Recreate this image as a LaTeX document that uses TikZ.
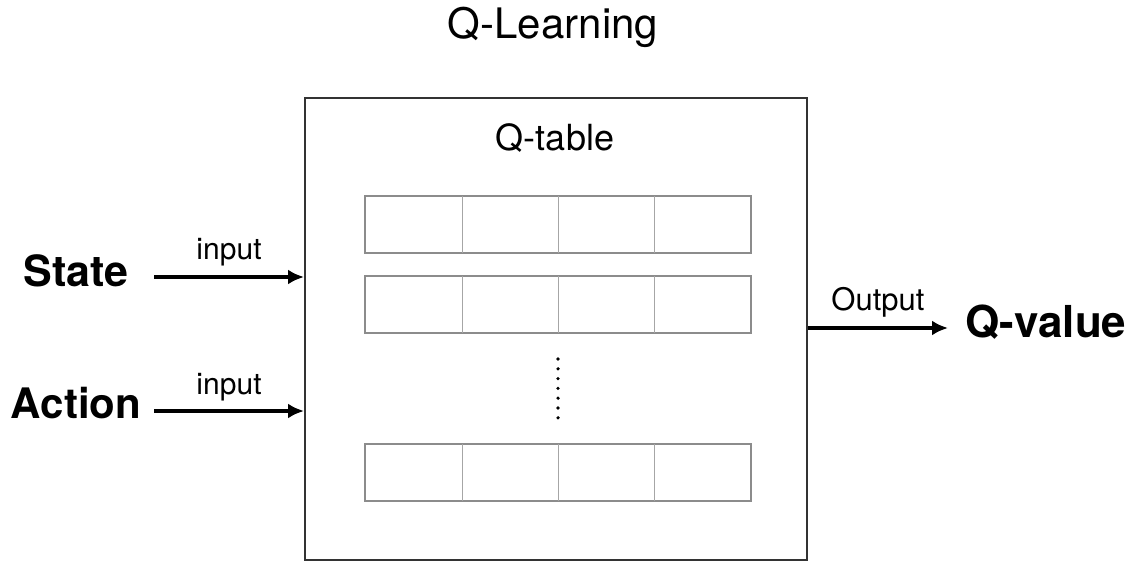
\documentclass[tikz,border=0pt]{standalone}
\usepackage{fontspec}
\setmainfont{TeX Gyre Heros}
\usetikzlibrary{arrows.meta}
\begin{document}
\begin{tikzpicture}[x=1pt,y=-1pt,
  lbl/.style={inner sep=0pt,anchor=base},
  big/.style={lbl,font=\fontsize{43}{46}\selectfont\bfseries},
  small/.style={lbl,font=\fontsize{30}{33}\selectfont},
  cell/.style={draw=black!45,line width=1.3pt},
  arr/.style={line width=3.3pt,-{Latex[length=16pt,width=15pt]}}]
\useasboundingbox[fill=white] (0,0) rectangle (1140,561);

% title
\node[lbl,font=\fontsize{42}{48}\selectfont] (title) at (553,39) {Q-Learning};

% Q-table container
\node[draw=black!80,line width=2pt,minimum width=502pt,minimum height=462pt,inner sep=0pt,anchor=north west] (box) at (304,97) {};
\node[lbl,font=\fontsize{36}{40}\selectfont] (qt) at (555,151) {Q-table};

% table rows
\foreach \r/\y in {r1/196,r2/276,r3/444}{
  \draw[cell] (365,\y) rectangle (751,\y+57);
  \foreach \x in {462,558,654}
    \draw[black!35,line width=1pt] (\x,\y) -- (\x,\y+57);
}
% vertical ellipsis
\foreach \k in {0,...,6}
  \fill (558,359+\k*9.8) circle (1.8pt);

% inputs and output
\node[big] (state) at (76,287) {State};
\node[big,font=\fontsize{42}{46}\selectfont\bfseries] (action) at (76,418) {Action};
\node[big,font=\fontsize{44}{48}\selectfont\bfseries] (qv) at (1046,337) {Q-value};
\coordinate (s0) at (154,277);
\coordinate (a0) at (154,411);
\coordinate (o1) at (948,328);
\draw[arr] (s0) -- (box.west |- s0) node[small,midway,yshift=17pt] (in1) {input};
\draw[arr] (a0) -- (box.west |- a0) node[small,midway,yshift=17pt] (in2) {input};
\draw[arr] (box.east |- o1) -- (o1) node[small,font=\fontsize{31}{34}\selectfont,midway,yshift=18pt] (out) {Output};
\end{tikzpicture}
\end{document}
